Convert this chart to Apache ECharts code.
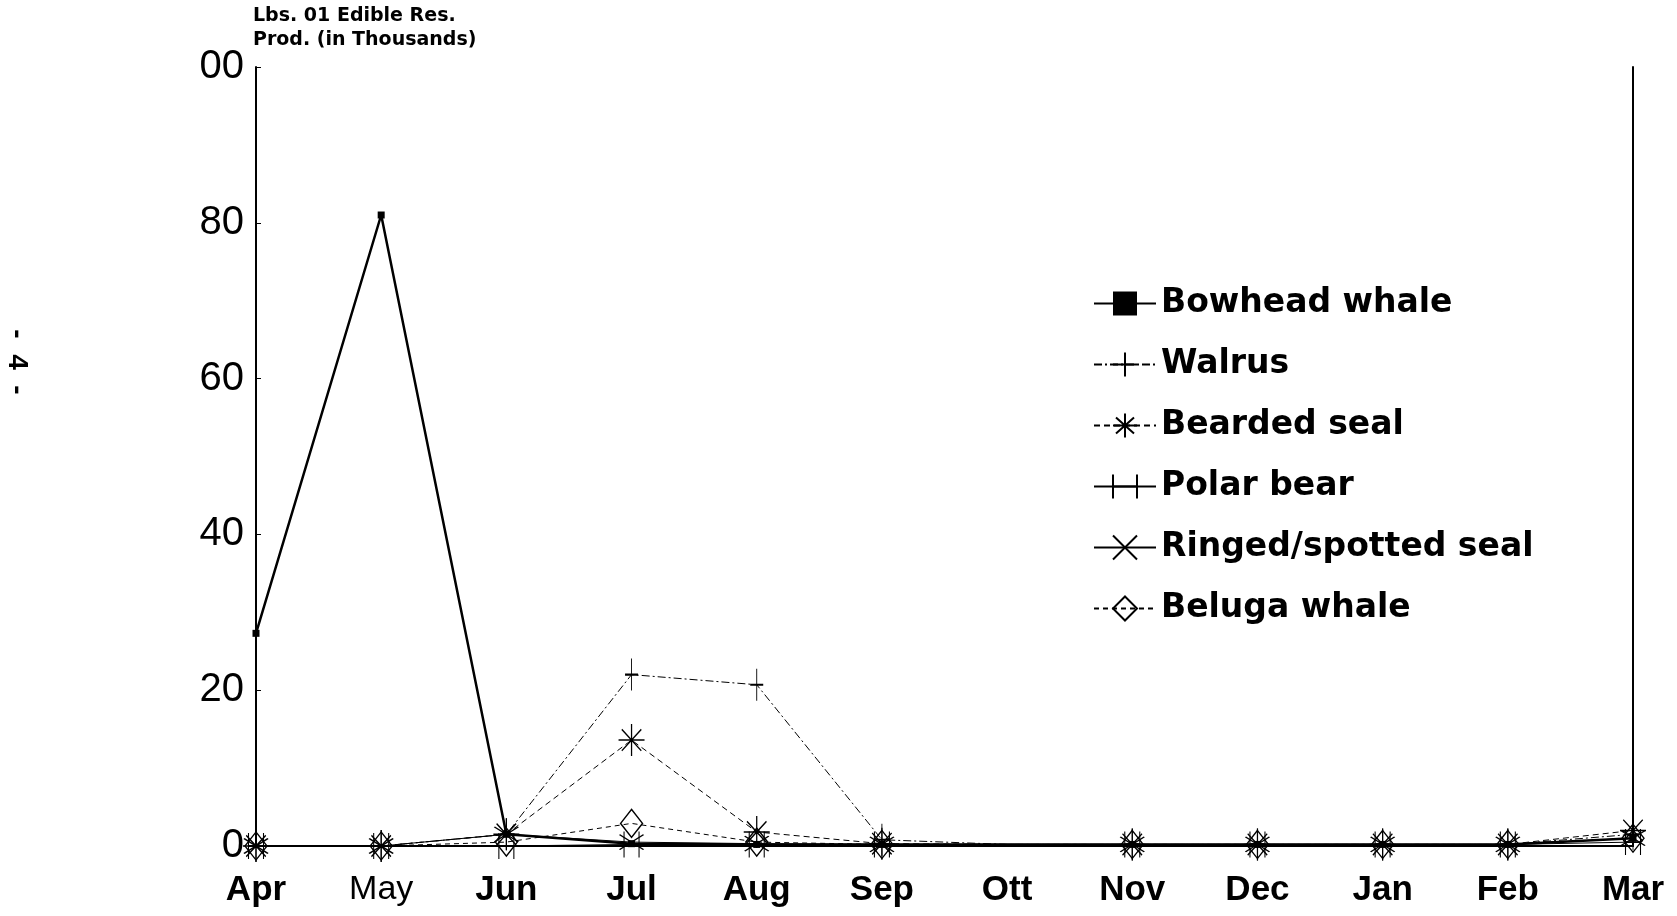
<!DOCTYPE html>
<html>
<head>
<meta charset="utf-8">
<script src="https://cdn.jsdelivr.net/npm/echarts@6/dist/echarts.min.js"></script>
<style>
html,body{margin:0;padding:0;background:#fff;}
#chart{width:1677px;height:916px;}
</style>
</head>
<body>
<div id="chart"></div>
<script>
// ---- data ----
const months = ['Apr','May','Jun','Jul','Aug','Sep','Ott','Nov','Dec','Jan','Feb','Mar'];
const yTickLabels = {0:'0',20:'20',40:'40',60:'60',80:'80',100:'00'};
const bowhead = [27.3, 81, 1.5, 0.3, 0.2, 0.2, 0.2, 0.2, 0.2, 0.2, 0.2, 1.0];
const walrus  = [0, 0, 1.5, 22, 20.7, 0.8, 0.2, 0.2, 0.2, 0.2, 0.2, 1.5];
const bearded = [0, 0, 1.5, 13.6, 1.8, 0.3, 0.2, 0.2, 0.2, 0.2, 0.2, 2.0];
const polar   = [0, 0, 0, 0.2, 0.2, 0.2, 0.2, 0.2, 0.2, 0.2, 0.2, 0.5];
const ringed  = [0, 0, 1.5, 0.5, 0.3, 0.2, 0.2, 0.2, 0.2, 0.2, 0.2, 1.0];
const beluga  = [0, 0, 0.5, 2.9, 0.5, 0.2, 0.2, 0.2, 0.2, 0.2, 0.2, 1.0];
const hiddenMonths = ['Ott'];

const chart = echarts.init(document.getElementById('chart'));

function withHidden(arr){
  return arr.map((v,i)=> hiddenMonths.includes(months[i]) ? {value:v, symbol:'none'} : v);
}

const strokeItem = {color:'rgba(0,0,0,0)', borderColor:'#000', borderWidth:1.4};

function mk(name, data, symbol, size, lineStyle, itemStyle, z){
  return {
    name, type:'line', data: withHidden(data), symbol, symbolSize:size,
    lineStyle: Object.assign({color:'#000', width:1}, lineStyle),
    itemStyle: itemStyle, z: z||2, animation:false, showAllSymbol:true
  };
}

const option = {
  animation:false,
  backgroundColor:'#fff',
  grid:{left:256, right:44, top:67, bottom:70},
  xAxis:{
    type:'category', data:months, boundaryGap:false,
    axisLine:{lineStyle:{color:'#000', width:2}},
    axisTick:{show:false},
    axisLabel:{
      margin:27, color:'#000',
      formatter:(v)=> v==='May' ? '{r|'+v+'}' : '{b|'+v+'}',
      rich:{
        b:{fontFamily:'Liberation Sans', fontWeight:'bold', fontSize:35, color:'#000'},
        r:{fontFamily:'Liberation Sans', fontWeight:'normal', fontSize:34, color:'#000'}
      }
    },
    splitLine:{show:false}
  },
  yAxis:[{
    type:'value', min:0, max:100, interval:20,
    axisLine:{show:true, lineStyle:{color:'#000', width:2}},
    axisTick:{show:true, inside:true, length:5, lineStyle:{color:'#000'}},
    axisLabel:{margin:12, color:'#000', fontSize:40, fontFamily:'Liberation Sans',
      formatter:(v)=> yTickLabels[v]!==undefined ? yTickLabels[v] : ''},
    splitLine:{show:false}
  },{
    type:'value', min:0, max:100, interval:20, position:'right',
    axisLine:{show:true, lineStyle:{color:'#000', width:2}},
    axisTick:{show:false}, axisLabel:{show:false}, splitLine:{show:false}
  }],
  legend:{
    orient:'vertical', left:1088, top:282, itemWidth:62, itemHeight:30, itemGap:28,
    textStyle:{fontFamily:'DejaVu Sans', fontWeight:'bold', fontSize:33, color:'#000'},
    data:['Bowhead whale','Walrus','Bearded seal','Polar bear','Ringed/spotted seal','Beluga whale']
  },
  graphic:[
    {type:'text', left:253, top:4, style:{text:'Lbs. 01 Edible Res.\nProd. (in Thousands)',
      fontFamily:'DejaVu Sans', fontWeight:'bold', fontSize:19, lineHeight:24, fill:'#000'}},
    {type:'text', x:17, y:362, rotation:-Math.PI/2, style:{text:'-  4  -', align:'center', verticalAlign:'middle',
      fontFamily:'Liberation Sans', fontWeight:'bold', fontSize:28, fill:'#000'}}
  ],
  series:[
    mk('Bowhead whale', bowhead, 'rect', 7, {width:2.5, type:'solid'}, {color:'#000'}, 5),
    mk('Walrus', walrus, 'path://M6,0L6,32M0,16L12,16', [13,32], {width:1, type:[8,3,2,3]}, strokeItem, 3),
    mk('Bearded seal', bearded, 'path://M12,0L12,30M0,15L24,15M3,5L21,25M21,5L3,25', [26,32], {width:1, type:[6,4]}, strokeItem, 3),
    mk('Polar bear', polar, 'path://M0,0L0,24M14,0L14,24M0,12L14,12', [15,26], {width:1, type:'solid'}, strokeItem, 3),
    mk('Ringed/spotted seal', ringed, 'path://M0,0L22,14M22,0L0,14', [24,15], {width:1, type:'solid'}, strokeItem, 3),
    mk('Beluga whale', beluga, 'diamond', [22,28], {width:1, type:[5,4]}, strokeItem, 3)
  ]
};
chart.setOption(option);
</script>
</body>
</html>
